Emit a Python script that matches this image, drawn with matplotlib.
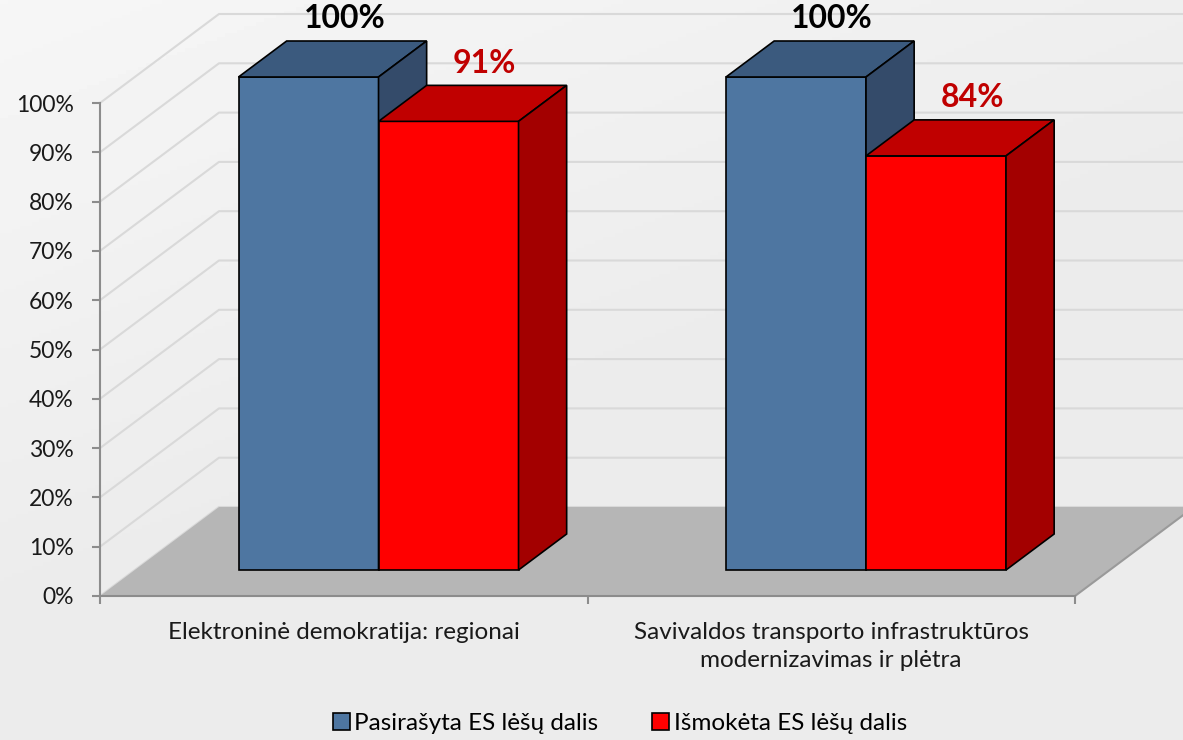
import matplotlib.pyplot as plt
import numpy as np
from matplotlib.patches import Polygon, Patch

# data
categories = ['Elektroninė demokratija: regionai',
              'Savivaldos transporto infrastruktūros\nmodernizavimas ir plėtra']
series_names = ['Pasirašyta ES lėšų dalis', 'Išmokėta ES lėšų dalis']
pasirasyta = [1.00, 1.00]
ismoketa = [0.91, 0.84]
value_labels = [['100%', '100%'], ['91%', '84%']]
y_ticks = [0.0, 0.1, 0.2, 0.3, 0.4, 0.5, 0.6, 0.7, 0.8, 0.9, 1.0]
y_tick_labels = ['0%', '10%', '20%', '30%', '40%', '50%',
                 '60%', '70%', '80%', '90%', '100%']

front_col = ['#4e76a1', '#ff0000']
top_col = ['#3b5a7e', '#c00000']
side_col = ['#344b6a', '#a30000']
label_col = ['black', '#c00000']

plt.rcParams['font.family'] = ['Lato', 'DejaVu Sans']

fig = plt.figure(figsize=(11.83, 7.40), dpi=100)

# soft background gradient
bg = fig.add_axes([0, 0, 1, 1], zorder=-5)
yy, xx = np.mgrid[0:1:200j, 0:1:300j]
g = 0.925 + 0.04 * np.clip(1 - (xx * 0.6 + yy) / 0.8, 0, 1)
bg.imshow(g, cmap='gray', vmin=0, vmax=1, extent=[0, 1, 0, 1], aspect='auto')
bg.axis('off')

ax = fig.add_axes([100 / 1183, 144 / 740, 975 / 1183, 493 / 740])
ax.set_xlim(0, 2)
ax.set_ylim(0, 1)
ax.patch.set_visible(False)

# depth of the 3d box (data units)
wdx = 119 / 487.5
wdy = 89 / 493

# back wall grid
for v in y_ticks:
    ax.plot([0, wdx, 2.6], [v, v + wdy, v + wdy], color='#d9d9d9', lw=1.5,
            clip_on=False, zorder=1)

# floor
ax.add_patch(Polygon([(0, 0), (2, 0), (2 + wdx, wdy), (wdx, wdy)],
                     closed=True, fc='#b6b6b6', ec='none', clip_on=False, zorder=2))
ax.plot([2, 2 + wdx], [0, wdy], color='#9a9a9a', lw=1.5, clip_on=False, zorder=2)

# bars
bar_w = 0.2872
d0, d1 = 26 / 89, 62 / 89
ddx = (d1 - d0) * wdx
ddy = (d1 - d0) * wdy
x = np.arange(len(categories))
for i, vals in enumerate([pasirasyta, ismoketa]):
    lefts = x + 0.5 - bar_w + i * bar_w + d0 * wdx
    zo = 3 + i
    ax.bar(lefts, vals, width=bar_w, bottom=d0 * wdy, align='edge',
           color=front_col[i], edgecolor='black', lw=1.2, clip_on=False, zorder=zo)
    for x0, v, lab in zip(lefts, vals, value_labels[i]):
        x1 = x0 + bar_w
        yb = d0 * wdy
        yt = v + yb
        ax.add_patch(Polygon([(x0, yt), (x1, yt), (x1 + ddx, yt + ddy), (x0 + ddx, yt + ddy)],
                             closed=True, fc=top_col[i], ec='black', lw=1.2,
                             clip_on=False, zorder=zo))
        ax.add_patch(Polygon([(x1, yb), (x1 + ddx, yb + ddy), (x1 + ddx, yt + ddy), (x1, yt)],
                             closed=True, fc=side_col[i], ec='black', lw=1.2,
                             clip_on=False, zorder=zo))
        ax.text(x0 + bar_w / 2 + 0.75 * ddx, yt + ddy + 0.045, lab, ha='center',
                va='center', fontsize=23, fontweight='bold', color=label_col[i],
                clip_on=False, zorder=10)

# axes
for s in ['top', 'right']:
    ax.spines[s].set_visible(False)
for s in ['left', 'bottom']:
    ax.spines[s].set_color('#8c8c8c')
    ax.spines[s].set_linewidth(1.5)
    ax.spines[s].set_zorder(2.5)

ax.set_yticks(y_ticks, y_tick_labels)
ax.tick_params(axis='y', length=6, width=1.5, color='#8c8c8c', pad=13,
               labelsize=16.5, labelcolor='#1a1a1a')
ax.set_xticks([0, 1, 2])
ax.set_xticklabels([])
ax.tick_params(axis='x', which='major', length=6, width=1.5, color='#8c8c8c')
ax.set_xticks([0.5, 1.5], categories, minor=True)
ax.tick_params(axis='x', which='minor', length=0, pad=19, labelsize=17.5,
               labelcolor='#1a1a1a')
for t in ax.get_xticklabels(minor=True):
    t.set_linespacing(1.38)

handles = [Patch(fc=front_col[i], ec='black', lw=1.2, label=series_names[i])
           for i in range(2)]
fig.legend(handles=handles, loc='center', bbox_to_anchor=(0.524, 0.022), ncol=2,
           frameon=False, fontsize=17.5, handlelength=0.7, handleheight=0.7,
           columnspacing=2.2, handletextpad=0.2)

fig.savefig('out.png', dpi=100)
